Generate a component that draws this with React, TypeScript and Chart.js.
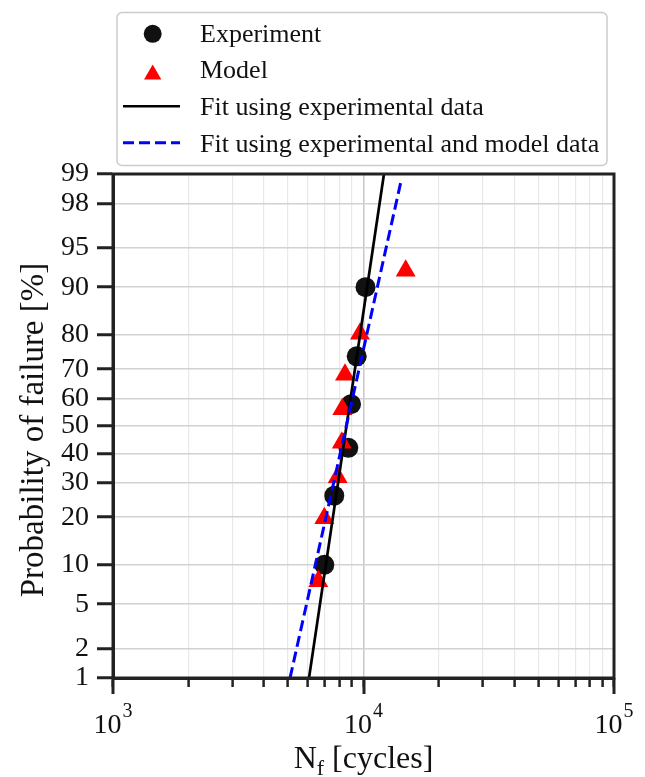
import React, { useEffect, useRef } from 'react';
import { Chart, registerables } from 'chart.js';

Chart.register(...registerables);

// ---------------- data ----------------
const PROB_TICKS = [1, 2, 5, 10, 20, 30, 40, 50, 60, 70, 80, 90, 95, 98, 99];
const X_TICKS = [
  1000, 2000, 3000, 4000, 5000, 6000, 7000, 8000, 9000,
  10000, 20000, 30000, 40000, 50000, 60000, 70000, 80000, 90000, 100000,
];
const X_MAJOR = [1000, 10000, 100000];
const X_MAJOR_EXP = ['3', '4', '5'];

const EXP_CYCLES = [6975, 7644, 8697, 8916, 9395, 10186];
const EXP_PROB = [10, 26, 42, 58, 74, 90];

const MODEL_CYCLES = [6600, 6975, 7888, 8190, 8230, 8435, 9683, 14740];
const MODEL_PROB = [7.6, 19.7, 31.8, 43.9, 56.1, 68.2, 80.3, 92.4];

const FIT_EXP_CYCLES = [6060, 12070];
const FIT_EXP_PROB = [1, 99];

const FIT_ALL_CYCLES = [5090, 14080];
const FIT_ALL_PROB = [1, 98.77];

const LEGEND_LABELS = [
  'Experiment',
  'Model',
  'Fit using experimental data',
  'Fit using experimental and model data',
];

// inverse normal CDF (normal probability axis transform)
function probit(p: number): number {
  const a = [-3.969683028665376e1, 2.209460984245205e2, -2.759285104469687e2, 1.38357751867269e2, -3.066479806614716e1, 2.506628277459239];
  const b = [-5.447609879822406e1, 1.615858368580409e2, -1.556989798598866e2, 6.680131188771972e1, -1.328068155288572e1];
  const c = [-7.784894002430293e-3, -3.223964580411365e-1, -2.400758277161838, -2.549732539343734, 4.374664141464968, 2.938163982698783];
  const d = [7.784695709041462e-3, 3.224671290700398e-1, 2.445134137142996, 3.754408661907416];
  const pl = 0.02425;
  if (p < pl) {
    const q = Math.sqrt(-2 * Math.log(p));
    return (((((c[0] * q + c[1]) * q + c[2]) * q + c[3]) * q + c[4]) * q + c[5]) /
      ((((d[0] * q + d[1]) * q + d[2]) * q + d[3]) * q + 1);
  }
  if (p <= 1 - pl) {
    const q = p - 0.5;
    const r = q * q;
    return ((((((a[0] * r + a[1]) * r + a[2]) * r + a[3]) * r + a[4]) * r + a[5]) * q) /
      (((((b[0] * r + b[1]) * r + b[2]) * r + b[3]) * r + b[4]) * r + 1);
  }
  const q = Math.sqrt(-2 * Math.log(1 - p));
  return -(((((c[0] * q + c[1]) * q + c[2]) * q + c[3]) * q + c[4]) * q + c[5]) /
    ((((d[0] * q + d[1]) * q + d[2]) * q + d[3]) * q + 1);
}

const toPoints = (xs: number[], ps: number[]) => xs.map((x, i) => ({ x, y: probit(ps[i] / 100) }));

const SERIF = "'Liberation Serif', 'Times New Roman', serif";

const decorPlugin = {
  id: 'decor',
  afterDraw(chart: any) {
    const ctx = chart.ctx as CanvasRenderingContext2D;
    const { left, right, top, bottom } = chart.chartArea;
    const xs = chart.scales.x;
    ctx.save();

    // frame
    ctx.strokeStyle = '#222';
    ctx.lineWidth = 3;
    ctx.strokeRect(left, top, right - left, bottom - top);

    // longer major x ticks
    ctx.lineWidth = 3;
    X_MAJOR.forEach((v) => {
      const px = Math.round(xs.getPixelForValue(v));
      ctx.beginPath();
      ctx.moveTo(px, bottom);
      ctx.lineTo(px, bottom + 16);
      ctx.stroke();
    });

    // x tick labels 10^n
    ctx.fillStyle = '#111';
    ctx.textBaseline = 'alphabetic';
    ctx.textAlign = 'left';
    X_MAJOR.forEach((v, i) => {
      const px = xs.getPixelForValue(v);
      ctx.font = `28px ${SERIF}`;
      const w1 = ctx.measureText('10').width;
      ctx.font = `20px ${SERIF}`;
      const w2 = ctx.measureText(X_MAJOR_EXP[i]).width;
      const x0 = px - (w1 + 1 + w2) / 2;
      ctx.font = `28px ${SERIF}`;
      ctx.fillText('10', x0, 733);
      ctx.font = `20px ${SERIF}`;
      ctx.fillText(X_MAJOR_EXP[i], x0 + w1 + 1, 717);
    });

    // x title: N_f [cycles]
    const cx = (left + right) / 2;
    ctx.font = `32px ${SERIF}`;
    const wN = ctx.measureText('N').width;
    const wRest = ctx.measureText(' [cycles]').width;
    ctx.font = `22px ${SERIF}`;
    const wf = ctx.measureText('f').width;
    let x = cx - (wN + wf + wRest) / 2;
    const base = 768;
    ctx.font = `32px ${SERIF}`;
    ctx.fillText('N', x, base);
    x += wN;
    ctx.font = `22px ${SERIF}`;
    ctx.fillText('f', x, base + 7);
    x += wf;
    ctx.font = `32px ${SERIF}`;
    ctx.fillText(' [cycles]', x, base);

    // y title
    ctx.save();
    ctx.translate(43, (top + bottom) / 2 + 4);
    ctx.rotate(-Math.PI / 2);
    ctx.textAlign = 'center';
    ctx.font = `33px ${SERIF}`;
    ctx.fillText('Probability of failure [%]', 0, 0);
    ctx.restore();

    // legend
    ctx.beginPath();
    (ctx as any).roundRect(117, 12.5, 490, 153, 5);
    ctx.fillStyle = 'rgba(255,255,255,0.9)';
    ctx.fill();
    ctx.strokeStyle = '#cccccc';
    ctx.lineWidth = 1.5;
    ctx.stroke();

    const mx = 152.7;
    // circle
    ctx.fillStyle = '#111';
    ctx.beginPath();
    ctx.arc(mx, 33.8, 9, 0, Math.PI * 2);
    ctx.fill();
    // triangle
    const r = 10;
    const cy = 74.5;
    ctx.fillStyle = '#ff0000';
    ctx.beginPath();
    ctx.moveTo(mx, cy - r);
    ctx.lineTo(mx + r * Math.cos(Math.PI / 6), cy + r / 2);
    ctx.lineTo(mx - r * Math.cos(Math.PI / 6), cy + r / 2);
    ctx.closePath();
    ctx.fill();
    // solid line
    ctx.strokeStyle = '#000';
    ctx.lineWidth = 2.5;
    ctx.beginPath();
    ctx.moveTo(123, 106.3);
    ctx.lineTo(180, 106.3);
    ctx.stroke();
    // dashed line
    ctx.strokeStyle = '#0000ff';
    ctx.lineWidth = 3;
    ctx.setLineDash([11, 5]);
    ctx.beginPath();
    ctx.moveTo(123, 142.7);
    ctx.lineTo(180, 142.7);
    ctx.stroke();
    ctx.setLineDash([]);

    ctx.fillStyle = '#111';
    ctx.font = `26px ${SERIF}`;
    ctx.textAlign = 'left';
    const baselines = [41.7, 78.3, 115, 151.7];
    LEGEND_LABELS.forEach((t, i) => ctx.fillText(t, 200, baselines[i]));

    ctx.restore();
  },
};

export default function App() {
  const ref = useRef<HTMLCanvasElement>(null);

  useEffect(() => {
    if (!ref.current) return;
    const yMin = probit(PROB_TICKS[0] / 100);
    const yMax = probit(PROB_TICKS[PROB_TICKS.length - 1] / 100);
    const chart = new Chart(ref.current, {
      type: 'scatter',
      data: {
        datasets: [
          {
            label: LEGEND_LABELS[3],
            data: toPoints(FIT_ALL_CYCLES, FIT_ALL_PROB),
            showLine: true,
            borderColor: '#0000ff',
            borderWidth: 3,
            borderDash: [11, 5],
            pointRadius: 0,
            order: 0,
          },
          {
            label: LEGEND_LABELS[2],
            data: toPoints(FIT_EXP_CYCLES, FIT_EXP_PROB),
            showLine: true,
            borderColor: '#000000',
            borderWidth: 2.7,
            pointRadius: 0,
            order: 1,
          },
          {
            label: LEGEND_LABELS[1],
            data: toPoints(MODEL_CYCLES, MODEL_PROB),
            pointStyle: 'triangle',
            pointRadius: 11.5,
            backgroundColor: '#ff0000',
            borderWidth: 0,
            order: 2,
          },
          {
            label: LEGEND_LABELS[0],
            data: toPoints(EXP_CYCLES, EXP_PROB),
            pointStyle: 'circle',
            pointRadius: 10,
            backgroundColor: '#111111',
            borderWidth: 0,
            order: 3,
          },
        ],
      },
      options: {
        animation: false,
        responsive: false,
        events: [],
        layout: { padding: { top: 174, right: 31, left: 0, bottom: 0 } },
        plugins: { legend: { display: false }, tooltip: { enabled: false } },
        scales: {
          x: {
            type: 'logarithmic',
            min: 1000,
            max: 100000,
            afterBuildTicks: (scale: any) => {
              scale.ticks = X_TICKS.map((v) => ({ value: v }));
            },
            afterFit: (scale: any) => {
              scale.height = 777 - 678;
            },
            ticks: { display: false, autoSkip: false },
            grid: {
              color: (c: any) =>
                c.tick && X_MAJOR.includes(c.tick.value) ? '#c8c8c8' : '#e9e9e9',
              lineWidth: (c: any) => (c.tick && X_MAJOR.includes(c.tick.value) ? 1.5 : 1.2),
              tickColor: '#222',
              tickWidth: 2.5,
              tickLength: 9,
            },
            border: { display: true, color: '#222', width: 3 },
          },
          y: {
            type: 'linear',
            min: yMin,
            max: yMax,
            afterBuildTicks: (scale: any) => {
              scale.ticks = PROB_TICKS.map((p) => ({ value: probit(p / 100) }));
            },
            afterFit: (scale: any) => {
              scale.width = 113;
            },
            ticks: {
              autoSkip: false,
              padding: 8,
              color: '#111',
              font: { family: SERIF, size: 28 },
              callback: (_v: any, i: number) => String(PROB_TICKS[i]),
            },
            grid: {
              color: '#d2d2d2',
              lineWidth: 1.5,
              tickColor: '#222',
              tickWidth: 3,
              tickLength: 16,
            },
            border: { display: true, color: '#222', width: 3 },
          },
        },
      },
      plugins: [decorPlugin],
    });
    return () => chart.destroy();
  }, []);

  return (
    <div style={{ position: 'absolute', left: 0, top: 0, width: 645, height: 777, background: '#fff' }}>
      <canvas ref={ref} width={645} height={777} />
    </div>
  );
}
